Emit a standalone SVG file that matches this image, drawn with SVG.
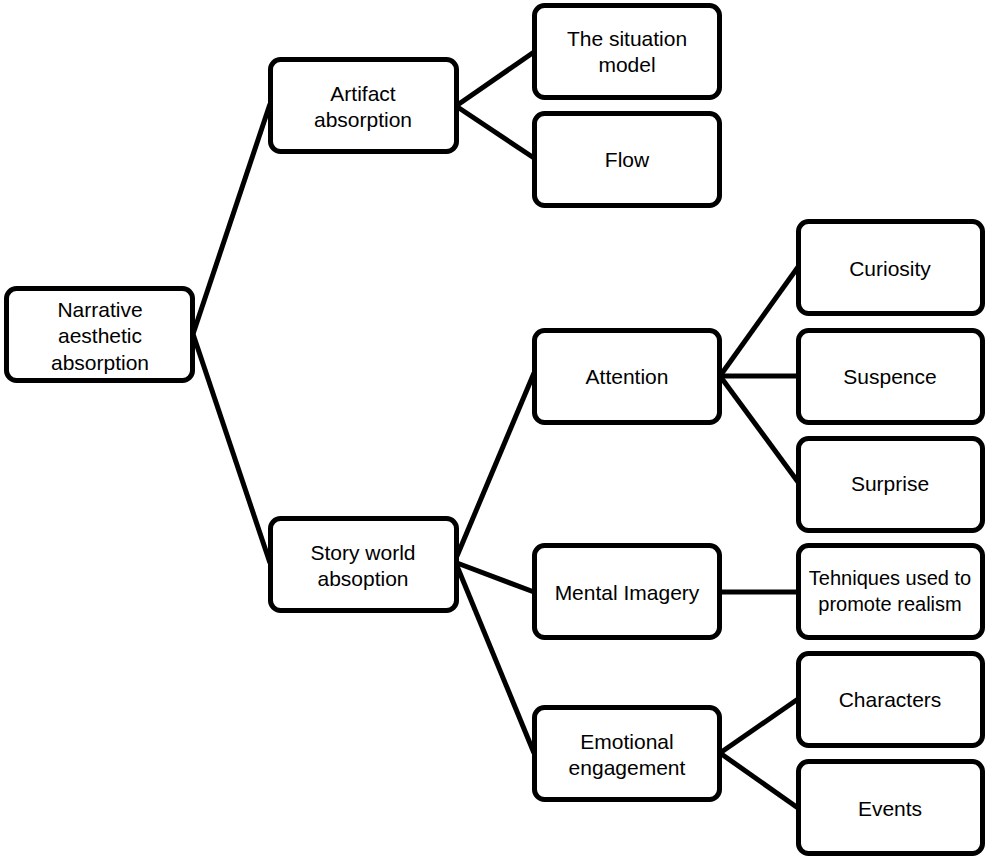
<svg xmlns="http://www.w3.org/2000/svg" width="986" height="857" viewBox="0 0 986 857">
<style>
.box{fill:#fff;stroke:#000;stroke-width:5}
.lbl{font-family:"Liberation Sans",Arial,sans-serif;font-size:21px;fill:#000;text-anchor:middle;dominant-baseline:central}
.sm{font-size:20px}
.con line{stroke:#000;stroke-width:5}
</style>
<rect width="986" height="857" fill="#fff"/>
<g class="con">
<line x1="193" y1="334" x2="270" y2="104"/>
<line x1="193" y1="334" x2="270" y2="563"/>
<line x1="456" y1="106" x2="534" y2="52"/>
<line x1="456" y1="106" x2="534" y2="158"/>
<line x1="457" y1="556" x2="534" y2="373"/>
<line x1="457" y1="563" x2="534" y2="592"/>
<line x1="457" y1="566" x2="534" y2="753"/>
<line x1="720" y1="376" x2="798" y2="267"/>
<line x1="720" y1="376" x2="798" y2="376"/>
<line x1="720" y1="376" x2="798" y2="482"/>
<line x1="720" y1="592" x2="798" y2="592"/>
<line x1="720" y1="753" x2="798" y2="699"/>
<line x1="720" y1="753" x2="798" y2="808"/>
</g>
<g id="n-root"><rect class="box" x="6.5" y="288.5" width="186" height="92" rx="10"/>
<text class="lbl" x="100" y="309">Narrative</text><text class="lbl" x="100" y="335">aesthetic</text><text class="lbl" x="100" y="362">absorption</text></g>
<g id="n-artifact"><rect class="box" x="270.5" y="59.5" width="186" height="92" rx="10"/>
<text class="lbl" x="363" y="93">Artifact</text><text class="lbl" x="363" y="119">absorption</text></g>
<g id="n-story"><rect class="box" x="270.5" y="518.5" width="186" height="92" rx="10"/>
<text class="lbl" x="363" y="552">Story world</text><text class="lbl" x="363" y="578">absoption</text></g>
<g id="n-situation"><rect class="box" x="534.5" y="5.5" width="185" height="92" rx="10"/>
<text class="lbl" x="627" y="38">The situation</text><text class="lbl" x="627" y="64">model</text></g>
<g id="n-flow"><rect class="box" x="534.5" y="113.5" width="185" height="92" rx="10"/>
<text class="lbl" x="627" y="159">Flow</text></g>
<g id="n-attention"><rect class="box" x="534.5" y="330.5" width="185" height="92" rx="10"/>
<text class="lbl" x="627" y="376">Attention</text></g>
<g id="n-mental"><rect class="box" x="534.5" y="545.5" width="185" height="92" rx="10"/>
<text class="lbl" x="627" y="592">Mental Imagery</text></g>
<g id="n-emotional"><rect class="box" x="534.5" y="707.5" width="185" height="92" rx="10"/>
<text class="lbl" x="627" y="741">Emotional</text><text class="lbl" x="627" y="767">engagement</text></g>
<g id="n-curiosity"><rect class="box" x="798.5" y="221.5" width="184" height="92" rx="10"/>
<text class="lbl" x="890" y="268">Curiosity</text></g>
<g id="n-suspence"><rect class="box" x="798.5" y="330.5" width="184" height="92" rx="10"/>
<text class="lbl" x="890" y="376">Suspence</text></g>
<g id="n-surprise"><rect class="box" x="798.5" y="438.5" width="184" height="92" rx="10"/>
<text class="lbl" x="890" y="483">Surprise</text></g>
<g id="n-tech"><rect class="box" x="798.5" y="545.5" width="184" height="92" rx="10"/>
<text class="lbl sm" x="890" y="578">Tehniques used to</text><text class="lbl sm" x="890" y="604">promote realism</text></g>
<g id="n-characters"><rect class="box" x="798.5" y="653.5" width="184" height="92" rx="10"/>
<text class="lbl" x="890" y="699">Characters</text></g>
<g id="n-events"><rect class="box" x="798.5" y="761.5" width="184" height="92" rx="10"/>
<text class="lbl" x="890" y="808">Events</text></g>
</svg>
